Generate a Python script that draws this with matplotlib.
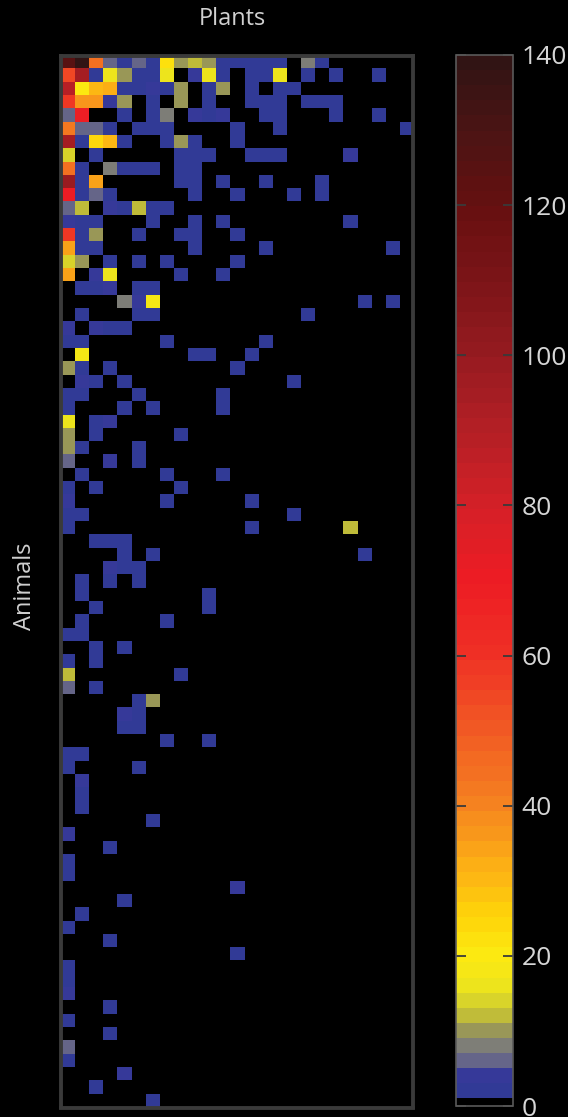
import numpy as np
import matplotlib
matplotlib.use('Agg')
import matplotlib.pyplot as plt
from matplotlib.colors import LinearSegmentedColormap, ListedColormap, BoundaryNorm

n_animals = 79
n_plants = 25

# per animal (row): which plant columns were visited, and how often
plant_cols = [
    [0, 1, 2, 3, 4, 5, 6, 7, 8, 9, 10, 11, 12, 13, 14, 15, 17, 18],
    [0, 1, 2, 3, 4, 5, 6, 7, 9, 10, 11, 13, 14, 15, 17, 19, 22],
    [0, 1, 2, 3, 4, 5, 6, 7, 8, 10, 11, 13, 15, 16],
    [0, 1, 2, 3, 4, 6, 8, 10, 13, 14, 15, 17, 18, 19],
    [0, 1, 4, 6, 7, 9, 10, 11, 14, 15, 19, 22],
    [0, 1, 2, 3, 5, 6, 7, 12, 15, 24],
    [0, 1, 2, 3, 4, 7, 8, 9, 12],
    [0, 2, 8, 9, 10, 13, 14, 15, 20],
    [0, 1, 3, 4, 5, 6, 8, 9],
    [0, 1, 2, 8, 9, 11, 14, 18],
    [0, 1, 2, 3, 9, 12, 16, 18],
    [0, 1, 3, 4, 5, 6, 7],
    [0, 1, 2, 6, 9, 11, 20],
    [0, 1, 2, 5, 8, 9, 12],
    [0, 1, 2, 9, 14, 23],
    [0, 1, 3, 5, 7, 12],
    [0, 2, 3, 8, 11],
    [1, 2, 3, 5, 6],
    [4, 5, 6, 21, 23],
    [1, 5, 6, 17],
    [0, 2, 3, 4],
    [0, 1, 7, 14],
    [1, 9, 10, 13],
    [0, 1, 3, 12],
    [1, 2, 4, 16],
    [0, 1, 5, 11],
    [0, 4, 6, 11],
    [0, 2, 3],
    [0, 2, 8],
    [0, 1, 5],
    [0, 3, 5],
    [1, 7, 11],
    [0, 2, 8],
    [0, 7, 13],
    [0, 1, 16],
    [0, 13, 20],
    [2, 3, 4],
    [4, 6, 21],
    [3, 4, 5],
    [1, 3, 5],
    [1, 10],
    [2, 10],
    [1, 7],
    [0, 1],
    [2, 4],
    [0, 2],
    [0, 8],
    [0, 2],
    [5, 6],
    [4, 5],
    [4, 5],
    [7, 10],
    [0, 1],
    [0, 5],
    [1],
    [1],
    [1],
    [6],
    [0],
    [3],
    [0],
    [0],
    [12],
    [4],
    [1],
    [0],
    [3],
    [12],
    [0],
    [0],
    [0],
    [3],
    [0],
    [3],
    [0],
    [0],
    [4],
    [2],
    [6],
]

visit_counts = [
    [125, 138, 45, 7, 3, 6, 2, 22, 10, 12, 10, 2, 2, 2, 3, 2, 8, 2],
    [55, 95, 3, 17, 10, 2, 2, 17, 5, 17, 2, 2, 2, 17, 3, 2, 2],
    [88, 20, 30, 33, 2, 2, 4, 2, 10, 2, 10, 2, 3, 2],
    [58, 37, 37, 4, 11, 2, 11, 2, 2, 2, 2, 2, 2, 2],
    [7, 68, 2, 2, 8, 4, 3, 4, 2, 2, 2, 2],
    [42, 7, 7, 2, 2, 2, 2, 2, 2, 2],
    [95, 2, 24, 30, 2, 2, 10, 2, 2],
    [15, 2, 2, 2, 2, 2, 2, 2, 4],
    [45, 2, 8, 2, 2, 2, 2, 2],
    [98, 2, 34, 2, 2, 2, 2, 2],
    [70, 2, 7, 2, 2, 2, 2, 2],
    [6, 13, 4, 2, 12, 2, 2],
    [4, 2, 2, 2, 2, 2, 2],
    [58, 2, 10, 2, 2, 2, 2],
    [35, 2, 2, 3, 2, 2],
    [15, 10, 2, 2, 2, 2],
    [34, 4, 17, 2, 2],
    [2, 2, 5, 2, 2],
    [8, 4, 18, 2, 2],
    [2, 2, 2, 2],
    [4, 5, 2, 2],
    [2, 2, 2, 2],
    [18, 2, 2, 2],
    [11, 2, 2, 2],
    [5, 2, 2, 2],
    [2, 2, 3, 2],
    [2, 3, 2, 2],
    [17, 3, 4],
    [11, 3, 2],
    [11, 2, 2],
    [7, 5, 2],
    [2, 2, 2],
    [2, 2, 2],
    [4, 2, 2],
    [3, 2, 2],
    [2, 2, 12],
    [2, 2, 2],
    [2, 3, 2],
    [4, 2, 2],
    [2, 2, 2],
    [2, 2],
    [2, 2],
    [2, 2],
    [3, 2],
    [2, 2],
    [3, 2],
    [12, 2],
    [7, 2],
    [2, 11],
    [4, 2],
    [2, 2],
    [2, 2],
    [3, 3],
    [2, 2],
    [4],
    [2],
    [2],
    [2],
    [5],
    [2],
    [2],
    [2],
    [4],
    [2],
    [2],
    [2],
    [2],
    [2],
    [2],
    [2],
    [5],
    [2],
    [2],
    [2],
    [7],
    [2],
    [5],
    [2],
    [2],
]

cbar_ticks = [0, 20, 40, 60, 80, 100, 120, 140]
vmax = 140

# colour anchors of the scale (value -> colour)
anchor_vals = [0, 4.5, 5.5, 7, 9, 11, 13, 16, 20, 25, 30, 40, 50, 60, 70,
               80, 90, 100, 110, 120, 130, 140]
anchor_cols = ['#2d3b94', '#38399a', '#5c5c8e', '#767680', '#8c8c66',
               '#aaa646', '#d2ce2e', '#eee51c', '#fde910', '#fed40a',
               '#fdb913', '#f58220', '#f15a24', '#ef3025', '#ed1c24',
               '#d42027', '#b41f25', '#961b20', '#7c1418', '#661010',
               '#4b1414', '#301414']

counts = np.zeros((n_animals, n_plants))
for r, (cols, vals) in enumerate(zip(plant_cols, visit_counts)):
    counts[r, cols] = vals

base = LinearSegmentedColormap.from_list(
    'visits', list(zip(np.array(anchor_vals) / vmax, anchor_cols)))
bounds = np.concatenate([[0, 1], np.linspace(1, vmax, 70)[1:]])
mids = (bounds[1:-1] + bounds[2:]) / 2
cmap = ListedColormap(['#000000'] + [base(m / vmax) for m in mids])
norm = BoundaryNorm(bounds, cmap.N)

W, H = 568, 1117
fig = plt.figure(figsize=(W / 100, H / 100), dpi=100, facecolor='black')

ax = fig.add_axes([60.5 / W, 1 - 1107.5 / H, 352.5 / W, 1051.5 / H])
ax.set_facecolor('black')
im = ax.imshow(counts, cmap=cmap, norm=norm, aspect='auto',
               interpolation='nearest')
ax.set_xticks([])
ax.set_yticks([])
for s in ax.spines.values():
    s.set_color('#3a3a3a')
    s.set_linewidth(2.8)

cax = fig.add_axes([456 / W, 1 - 1106 / H, 57 / W, 1051 / H])
cb = fig.colorbar(im, cax=cax, ticks=cbar_ticks, spacing='proportional')
cb.outline.set_edgecolor('#5a5a5a')
cb.outline.set_linewidth(1.2)
cax.tick_params(direction='in', left=True, right=True, length=7, width=1.3,
                color='#3a3a3a', labelcolor='#d6d6d6', labelsize=19, pad=6)
for lab in cax.get_yticklabels():
    lab.set_family('Open Sans')

fig.text(232 / W, 1 - 19 / H, 'Plants', ha='center', va='center',
         color='#d0d0d0', fontsize=17, family='Open Sans')
fig.text(25 / W, 1 - 586 / H, 'Animals', ha='center', va='center',
         rotation=90, color='#d0d0d0', fontsize=17, family='Open Sans')

fig.savefig('out.png', dpi=100, facecolor='black')
